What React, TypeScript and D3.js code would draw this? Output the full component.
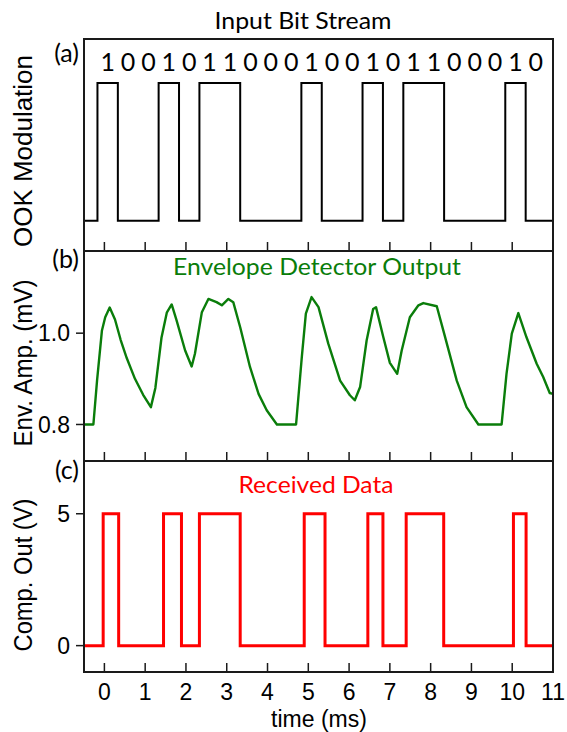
import React from "react";
import * as d3 from "d3";

// input bit stream (panel a)
const bits = [1, 0, 0, 1, 0, 1, 1, 0, 0, 0, 1, 0, 0, 1, 0, 1, 1, 0, 0, 0, 1, 0];
const bitStart = -0.17; // ms, first bit edge
const bitPeriod = 0.5; // ms

// envelope detector output (panel b), ms / mV
const envTime = [
  -0.5, -0.27, -0.18, -0.06, 0.02, 0.13, 0.26, 0.4, 0.55, 0.75, 0.95, 1.14,
  1.25, 1.4, 1.53, 1.65, 1.77, 1.98, 2.14, 2.22, 2.39, 2.55, 2.75, 2.88, 3.04, 3.16,
  3.33, 3.57, 3.78, 3.98, 4.23, 4.70, 4.84, 4.94, 5.08, 5.25, 5.49, 5.78, 6.02, 6.14,
  6.27, 6.43, 6.59, 6.66, 6.84, 7.0, 7.18, 7.29, 7.49, 7.70, 7.82, 8.15, 8.31, 8.64,
  8.88, 9.17, 9.74, 9.86, 9.99, 10.15, 10.35, 10.6, 10.76, 10.92, 11.0,
];
const envAmp = [
  0.8, 0.8, 0.896, 1.006, 1.035, 1.056, 1.03, 0.985, 0.945, 0.9, 0.865, 0.838,
  0.88, 0.99, 1.045, 1.063, 1.028, 0.962, 0.927, 0.955, 1.046, 1.075, 1.068, 1.061, 1.075, 1.068,
  1.013, 0.926, 0.867, 0.831, 0.8, 0.8, 0.947, 1.043, 1.079, 1.057, 0.977, 0.896, 0.864, 0.853,
  0.882, 0.984, 1.053, 1.057, 0.991, 0.935, 0.911, 0.962, 1.035, 1.061, 1.066, 1.059, 1.006, 0.896,
  0.838, 0.8, 0.8, 0.911, 0.999, 1.044, 0.991, 0.933, 0.904, 0.869, 0.867,
];

// comparator output (panel c), edges in ms
const rxRise = [-0.03, 1.45, 2.33, 4.9, 6.46, 7.4, 10.03];
const rxFall = [0.35, 1.89, 3.33, 5.41, 6.83, 8.32, 10.34];
const rxHigh = 5;
const rxLow = 0;

const xTicks = [0, 1, 2, 3, 4, 5, 6, 7, 8, 9, 10, 11];

const W = 567, H = 732;
const left = 84, right = 553;
const panels = [
  { top: 39, bottom: 251 },
  { top: 251, bottom: 461 },
  { top: 461, bottom: 672 },
];

const arial = "'Liberation Sans', Arial, sans-serif";
const calibri = "Lato, 'Open Sans', sans-serif";

export default function App() {
  const x = d3.scaleLinear().domain([-0.5, 11]).range([left, right]);
  const yA = d3.scaleLinear().domain([-0.22, 1.32]).range([panels[0].bottom, panels[0].top]);
  const yB = d3.scaleLinear().domain([0.72, 1.18]).range([panels[1].bottom, panels[1].top]);
  const yC = d3.scaleLinear().domain([-1, 7]).range([panels[2].bottom, panels[2].top]);

  // OOK step signal
  const ookPts: [number, number][] = [[-0.5, 0]];
  bits.forEach((b, i) => ookPts.push([bitStart + i * bitPeriod, b]));
  ookPts.push([bitStart + bits.length * bitPeriod, 0]);
  ookPts.push([11, 0]);
  const ookLine = d3.line<[number, number]>()
    .x(d => x(d[0])).y(d => yA(d[1]))
    .curve(d3.curveStepAfter);

  const envLine = d3.line<number>()
    .x((_, i) => x(envTime[i])).y(d => yB(d));

  const rxPts: [number, number][] = [[-0.5, rxLow]];
  rxRise.forEach((r, i) => {
    rxPts.push([r, rxHigh]);
    rxPts.push([rxFall[i], rxLow]);
  });
  rxPts.push([11, rxLow]);
  const rxLine = d3.line<[number, number]>()
    .x(d => x(d[0])).y(d => yC(d[1]))
    .curve(d3.curveStepAfter);

  const ylabels = [
    { text: "OOK Modulation", cy: 151, len: 192 },
    { text: "Env. Amp. (mV)", cy: 363, len: 167 },
    { text: "Comp. Out (V)", cy: 575, len: 153 },
  ];
  const tags = [
    { text: "(a)", y: 62 },
    { text: "(b)", y: 268 },
    { text: "(c)", y: 479 },
  ];

  return (
    <svg width={W} height={H} style={{ position: "absolute", left: 0, top: 0, background: "#fff" }}>
      {/* data */}
      <path d={ookLine(ookPts) || ""} fill="none" stroke="#000" strokeWidth={2} />
      <path d={envLine(envAmp) || ""} fill="none" stroke="#0a7d0a" strokeWidth={2.4} strokeLinejoin="round" />
      <path d={rxLine(rxPts) || ""} fill="none" stroke="#ff0000" strokeWidth={3} />

      {/* frames + inward x ticks */}
      {panels.map((p, k) => (
        <g key={k}>
          <rect x={left} y={p.top} width={right - left} height={p.bottom - p.top}
            fill="none" stroke="#1a1a1a" strokeWidth={2} />
          {xTicks.map(t => (
            <line key={t} x1={x(t)} x2={x(t)} y1={p.bottom} y2={p.bottom - 9}
              stroke="#1a1a1a" strokeWidth={1.5} />
          ))}
        </g>
      ))}

      {/* y ticks panel b */}
      {[0.8, 1.0].map(v => (
        <g key={v}>
          <line x1={left - 8} x2={left} y1={yB(v)} y2={yB(v)} stroke="#1a1a1a" strokeWidth={1.5} />
          <text x={70} y={yB(v)} dy="0.36em" textAnchor="end" fontFamily={arial} fontSize={23}>
            {d3.format(".1f")(v)}
          </text>
        </g>
      ))}
      {/* y ticks panel c */}
      {[0, 5].map(v => (
        <g key={v}>
          <line x1={left - 8} x2={left} y1={yC(v)} y2={yC(v)} stroke="#1a1a1a" strokeWidth={1.5} />
          <text x={70} y={yC(v)} dy="0.36em" textAnchor="end" fontFamily={arial} fontSize={23}>
            {v}
          </text>
        </g>
      ))}

      {/* x tick labels */}
      {xTicks.map(t => (
        <text key={t} x={x(t)} y={700} textAnchor="middle" fontFamily={arial} fontSize={23}>{t}</text>
      ))}
      <text x={319} y={727} textAnchor="middle" fontFamily={arial} fontSize={23}>time (ms)</text>

      {/* y labels */}
      {ylabels.map(l => (
        <text key={l.text} transform={`translate(32,${l.cy}) rotate(-90)`} textAnchor="middle"
          fontFamily={arial} fontSize={25} textLength={l.len} lengthAdjust="spacingAndGlyphs">
          {l.text}
        </text>
      ))}

      {/* panel tags */}
      {tags.map(t => (
        <text key={t.text} x={79} y={t.y} textAnchor="end" fontFamily={calibri} fontSize={25}>{t.text}</text>
      ))}

      {/* titles */}
      <text x={303} y={29} textAnchor="middle" fontFamily={calibri} fontSize={23}
        textLength={177} lengthAdjust="spacingAndGlyphs">Input Bit Stream</text>
      <text x={317} y={275} textAnchor="middle" fontFamily={calibri} fontSize={23} fill="#0a7d0a"
        textLength={288} lengthAdjust="spacingAndGlyphs">Envelope Detector Output</text>
      <text x={316} y={493} textAnchor="middle" fontFamily={calibri} fontSize={23} fill="#ff0000"
        textLength={155} lengthAdjust="spacingAndGlyphs">Received Data</text>

      {/* bit labels */}
      {bits.map((b, i) => (
        <text key={i} x={x(bitStart + (i + 0.5) * bitPeriod)} y={71} textAnchor="middle"
          fontFamily={calibri} fontSize={25}>{b}</text>
      ))}
    </svg>
  );
}
